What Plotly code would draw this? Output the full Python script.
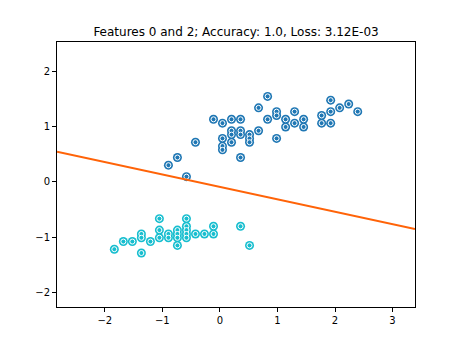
import plotly.graph_objects as go

# Standardised feature 0 (sepal length) and feature 2 (petal length)
class1_x = [-0.894, -0.738, -0.581, -0.424, -0.111, 0.045, 0.045, 0.045, 0.045,
            0.202, 0.202, 0.202, 0.202, 0.359, 0.359, 0.359, 0.359, 0.515, 0.515,
            0.515, 0.672, 0.672, 0.829, 0.829, 0.985, 0.985, 0.985, 1.142, 1.142,
            1.298, 1.298, 1.455, 1.455, 1.768, 1.768, 1.925, 1.925, 1.925, 2.081,
            2.238, 2.395]
class1_y = [0.304, 0.443, 0.096, 0.721, 1.137, 1.067, 0.790, 0.651, 0.582,
            1.137, 0.929, 0.859, 0.721, 1.137, 0.929, 0.859, 0.443, 0.859, 0.790,
            0.721, 1.345, 0.929, 1.553, 1.137, 1.276, 1.206, 0.790, 1.137, 0.998,
            1.276, 1.067, 1.137, 0.998, 1.206, 1.067, 1.484, 1.276, 1.067, 1.345,
            1.414, 1.276]

class0_x = [-1.834, -1.677, -1.521, -1.364, -1.364, -1.364, -1.207, -1.051, -1.051,
            -1.051, -0.894, -0.894, -0.738, -0.738, -0.738, -0.738, -0.581, -0.581,
            -0.581, -0.581, -0.581, -0.424, -0.268, -0.111, -0.111, 0.359, 0.515]
class0_y = [-1.221, -1.082, -1.082, -0.944, -1.013, -1.290, -1.082, -0.666, -0.874,
            -1.013, -0.944, -1.013, -0.874, -0.944, -1.013, -1.152, -0.666, -0.805,
            -0.874, -0.944, -1.013, -0.944, -0.944, -0.805, -0.944, -0.805, -1.152]

# Decision boundary y = slope * x + intercept
boundary_slope = -0.2255
boundary_intercept = -0.088

x_range = [-2.83, 3.39]
y_range = [-2.27, 2.54]
tick_vals_x = [-2, -1, 0, 1, 2, 3]
tick_vals_y = [-2, -1, 0, 1, 2]

title_text = "Features 0 and 2; Accuracy: 1.0, Loss: 3.12E-03"

BLUE = "#1f77b4"
CYAN = "#17becf"
ORANGE = "#ff6308"

fig = go.Figure()


def add_points(xs, ys, color):
    # outer disc, then smaller disc with a white rim on top
    fig.add_trace(go.Scatter(x=xs, y=ys, mode="markers",
                             marker=dict(size=9, color=color, line=dict(width=0)),
                             hoverinfo="skip"))
    fig.add_trace(go.Scatter(x=xs, y=ys, mode="markers",
                             marker=dict(size=5, color=color,
                                         line=dict(width=1, color="white")),
                             hoverinfo="skip"))


add_points(class1_x, class1_y, BLUE)
add_points(class0_x, class0_y, CYAN)

line_x = x_range
line_y = [boundary_slope * v + boundary_intercept for v in line_x]
fig.add_trace(go.Scatter(x=line_x, y=line_y, mode="lines",
                         line=dict(color=ORANGE, width=2), hoverinfo="skip"))

axis_common = dict(showgrid=False, zeroline=False, showline=True, linecolor="black",
                   linewidth=1, mirror=True, ticks="outside", ticklen=4, tickwidth=1,
                   tickcolor="black",
                   tickfont=dict(family="DejaVu Sans", size=10, color="black"))

fig.update_layout(
    width=461, height=346,
    margin=dict(l=57, r=46, t=42, b=39),
    paper_bgcolor="white", plot_bgcolor="white",
    showlegend=False,
    title=dict(text=title_text, x=0.512, xanchor="center", y=0.907, yanchor="middle",
               yref="container",
               font=dict(family="DejaVu Sans", size=12, color="black")),
    xaxis=dict(range=x_range, tickvals=tick_vals_x, **axis_common),
    yaxis=dict(range=y_range, tickvals=tick_vals_y, **axis_common),
)

fig.write_html("out.html")
